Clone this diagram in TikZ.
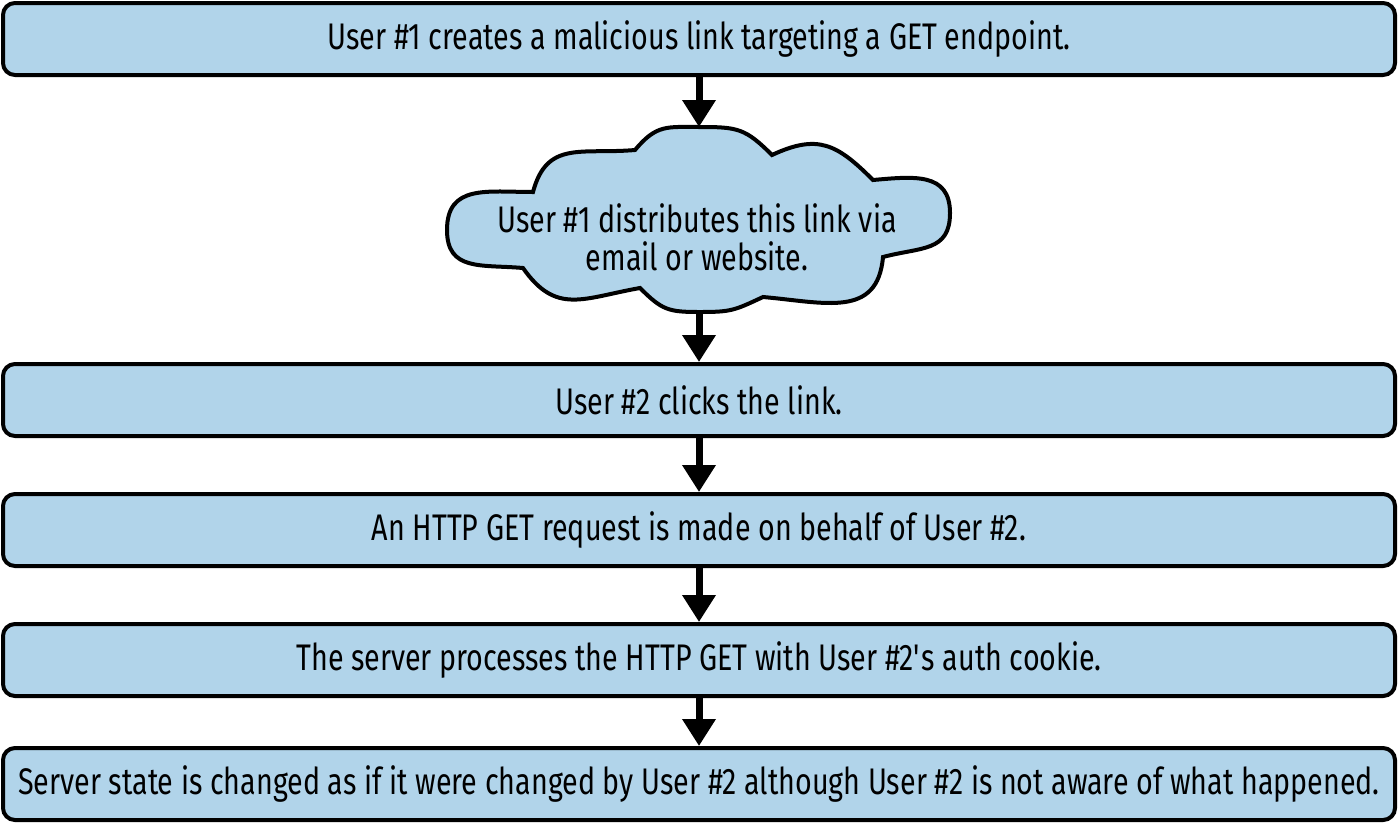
\documentclass[tikz,border=0pt]{standalone}
\usepackage{fontspec}
\setmainfont{Fira Sans}[FakeStretch=0.775]
\usetikzlibrary{arrows.meta}
\definecolor{boxblue}{RGB}{177,212,234}
\tikzset{
  stepbox/.style={draw=black, line width=4pt, fill=boxblue, rounded corners=12pt,
    minimum width=1392pt, minimum height=72pt, inner sep=0pt,
    font=\fontsize{37}{44}\selectfont, text=black},
  cloudtext/.style={align=center, inner sep=0pt, font=\fontsize{37}{38}\selectfont, text=black},
  cloudline/.style={draw=black, line width=4pt, fill=boxblue, looseness=1.25},
  flow/.style={draw=black, line width=7pt, -{Triangle[width=32pt,length=27pt]}}
}
\begin{document}
\begin{tikzpicture}[x=1pt,y=-1pt]
\useasboundingbox (0,0) rectangle (1399,825);
\node[stepbox] (b1) at (699,39) {User \#1 creates a malicious link targeting a GET endpoint.};
% cloud
\path[cloudline] (523,268)
  to[out=175,in=270] (447,230)
  to[out=90,in=180] (533,192)
  to[out=75,in=185] (635,150)
  to[out=50,in=180] (700,127)
  to[out=0,in=135] (772,155)
  to[out=25,in=135] (873,180)
  to[out=5,in=90] (950,213)
  to[out=270,in=15] (883,257)
  to[out=265,in=355] (763,297)
  to[out=205,in=0] (700,312)
  to[out=180,in=315] (640,288)
  to[out=190,in=305] cycle;
\coordinate (ctop) at (699,127);
\coordinate (cbot) at (699,312);
\node[cloudtext] (cl) at (697,237) {User \#1 distributes this link via\\email or website.};
\node[stepbox] (b3) at (699,400) {User \#2 clicks the link.};
\node[stepbox] (b4) at (699,530) {An HTTP GET request is made on behalf of User \#2.};
\node[stepbox] (b5) at (699,660) {The server processes the HTTP GET with User \#2\textquotesingle s auth cookie.};
\node[stepbox] (b6) at (699,784) {Server state is changed as if it were changed by User \#2 although User \#2 is not aware of what happened.};
\draw[flow] (b1.south) -- (ctop);
\draw[flow] (cbot) -- (b3.north);
\draw[flow] (b3.south) -- (b4.north);
\draw[flow] (b4.south) -- (b5.north);
\draw[flow] (b5.south) -- (b6.north);
\end{tikzpicture}
\end{document}
